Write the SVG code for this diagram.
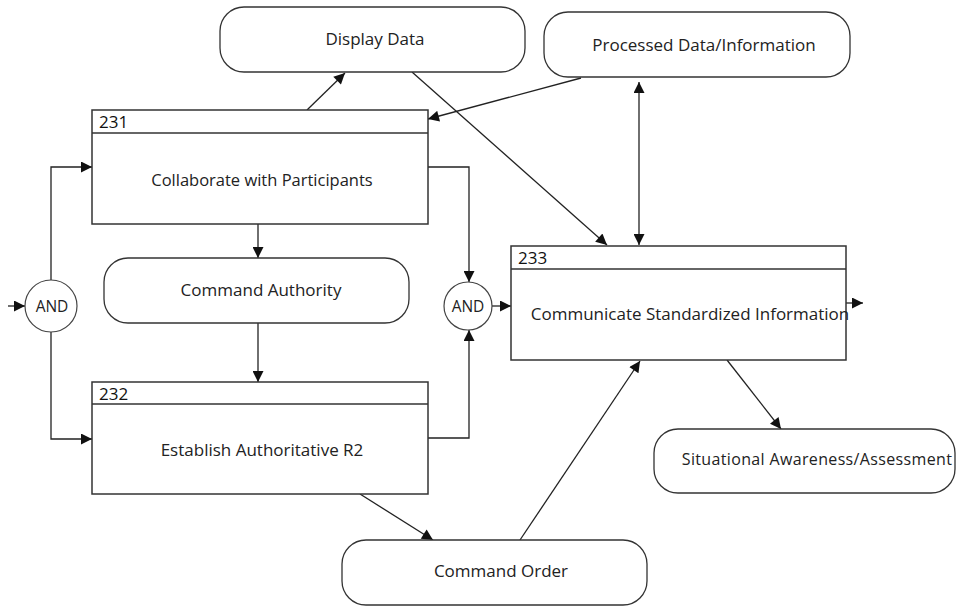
<svg xmlns="http://www.w3.org/2000/svg" width="956" height="607" viewBox="0 0 956 607">
  <defs>
    <marker id="arrow" viewBox="0 0 10 10" refX="10" refY="5" markerWidth="13" markerHeight="11" markerUnits="userSpaceOnUse" orient="auto">
      <path d="M0,0 L10,5 L0,10 Z" fill="#111"/>
    </marker>
    <marker id="arrowStart" viewBox="0 0 10 10" refX="0" refY="5" markerWidth="13" markerHeight="11" markerUnits="userSpaceOnUse" orient="auto">
      <path d="M10,0 L0,5 L10,10 Z" fill="#111"/>
    </marker>
  </defs>
  <style>
    .box { fill: #fff; stroke: #333; stroke-width: 1.5; }
    .pill { fill: #fff; stroke: #333; stroke-width: 1.3; }
    .gate { fill: #fff; stroke: #444; stroke-width: 1.2; }
    .hdr { stroke: #333; stroke-width: 1.5; }
    .label { font-family: "Open Sans", "DejaVu Sans", sans-serif; font-size: 17px; fill: #222; text-anchor: middle; }
    .num { font-family: "Open Sans", "DejaVu Sans", sans-serif; font-size: 17px; fill: #111; }
    .edge { fill: none; stroke: #222; stroke-width: 1.3; }
    .arr { marker-end: url(#arrow); }
  </style>
  <rect width="956" height="607" fill="#fff"/>

  <!-- connectors -->
  <g id="connectors">
    <line class="edge arr" x1="307" y1="110" x2="345" y2="73"/>
    <line class="edge arr" x1="581" y1="78" x2="428" y2="119"/>
    <line class="edge arr" x1="412" y1="72" x2="607" y2="245"/>
    <line class="edge arr" x1="639" y1="82" x2="639" y2="245" style="marker-start:url(#arrowStart)"/>
    <line class="edge arr" x1="258" y1="224" x2="258" y2="258"/>
    <line class="edge arr" x1="258" y1="323" x2="258" y2="382"/>
    <line class="edge arr" x1="8" y1="306" x2="25" y2="306"/>
    <polyline class="edge arr" points="51,280 51,167 92,167"/>
    <polyline class="edge arr" points="51,332 51,439 92,439"/>
    <polyline class="edge arr" points="428,167 469,167 469,282"/>
    <polyline class="edge arr" points="428,438 469,438 469,330"/>
    <line class="edge arr" x1="492" y1="306" x2="511" y2="306"/>
    <line class="edge arr" x1="846" y1="303" x2="863" y2="303"/>
    <line class="edge arr" x1="727" y1="360" x2="781" y2="429"/>
    <line class="edge arr" x1="360" y1="494" x2="433" y2="540"/>
    <line class="edge arr" x1="520" y1="540" x2="640" y2="361"/>
  </g>

  <g id="display-data">
    <rect class="pill" x="220" y="7" width="305" height="65" rx="24" ry="24"/>
    <text class="label" x="375" y="45">Display Data</text>
  </g>

  <g id="processed-data">
    <rect class="pill" x="544" y="12" width="306" height="65" rx="24" ry="24"/>
    <text class="label" x="704" y="51">Processed Data/Information</text>
  </g>

  <g id="node-231">
    <rect class="box" x="92" y="110" width="336" height="114"/>
    <line class="hdr" x1="92" y1="133" x2="428" y2="133"/>
    <text class="num" x="99" y="128">231</text>
    <text class="label" x="262" y="186" style="font-size:16.5px">Collaborate with Participants</text>
  </g>

  <g id="command-authority">
    <rect class="pill" x="104" y="258" width="305" height="65" rx="24" ry="24"/>
    <text class="label" x="261" y="296">Command Authority</text>
  </g>

  <g id="node-232">
    <rect class="box" x="92" y="382" width="336" height="112"/>
    <line class="hdr" x1="92" y1="404" x2="428" y2="404"/>
    <text class="num" x="99" y="400">232</text>
    <text class="label" x="262" y="456">Establish Authoritative R2</text>
  </g>

  <g id="and-left">
    <circle class="gate" cx="51" cy="306" r="26"/>
    <text class="label" x="52" y="312" style="font-size:15.5px">AND</text>
  </g>

  <g id="and-right">
    <circle class="gate" cx="468" cy="306" r="24"/>
    <text class="label" x="468" y="312" style="font-size:15.5px">AND</text>
  </g>

  <g id="node-233">
    <rect class="box" x="511" y="246" width="335" height="114"/>
    <line class="hdr" x1="511" y1="269" x2="846" y2="269"/>
    <text class="num" x="518" y="264">233</text>
    <text class="label" x="690" y="320">Communicate Standardized Information</text>
  </g>

  <g id="situational-awareness">
    <rect class="pill" x="654" y="429" width="301" height="64" rx="24" ry="24"/>
    <text class="label" x="817" y="465" style="font-size:16px;letter-spacing:0.35px">Situational Awareness/Assessment</text>
  </g>

  <g id="command-order">
    <rect class="pill" x="342" y="540" width="305" height="65" rx="24" ry="24"/>
    <text class="label" x="501" y="577">Command Order</text>
  </g>
</svg>
